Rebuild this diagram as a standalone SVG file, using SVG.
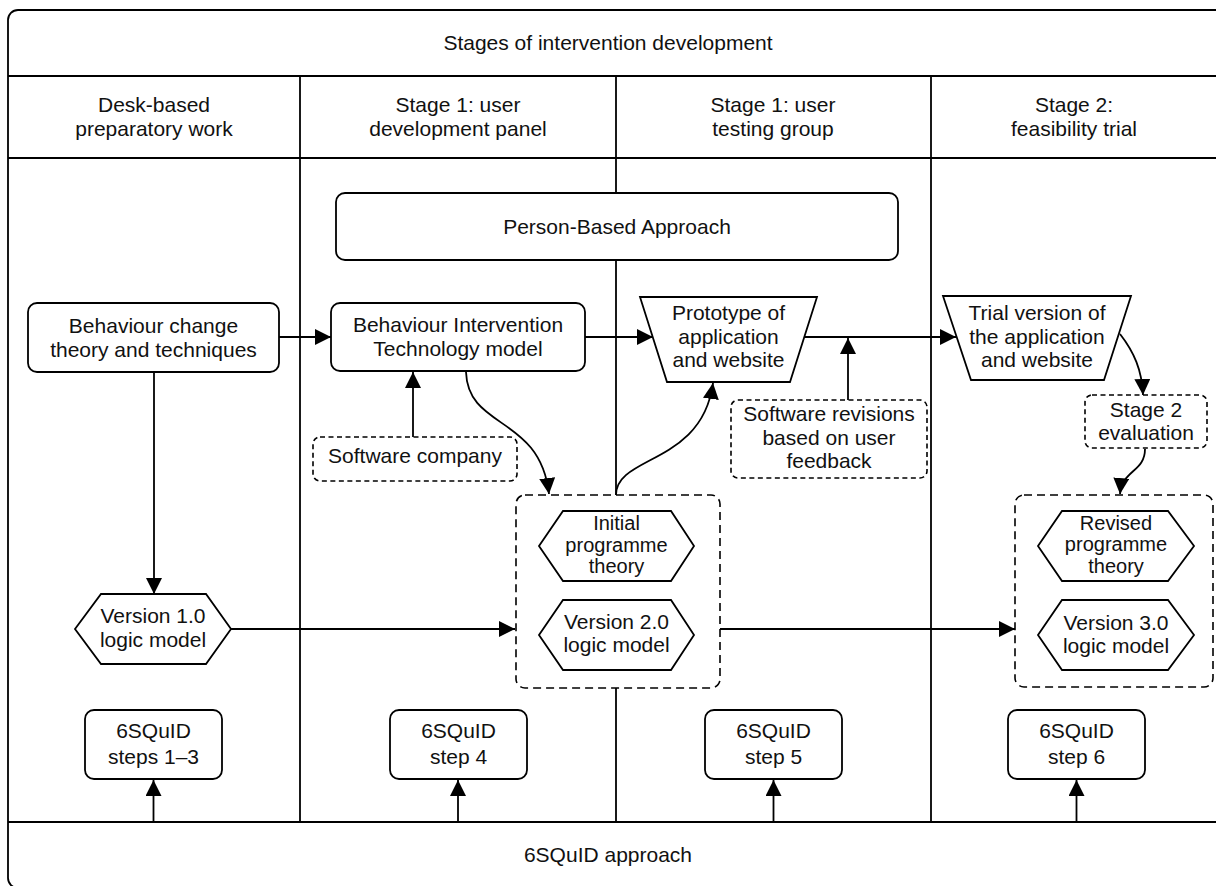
<svg xmlns="http://www.w3.org/2000/svg" width="1216" height="886" viewBox="0 0 1216 886">
<defs>
<marker id="ah" markerUnits="userSpaceOnUse" markerWidth="16" markerHeight="16" refX="14" refY="7" orient="auto" viewBox="0 0 14 14">
<path d="M0,0 L14,7 L0,14 z" fill="#000"/>
</marker>
<style>
text{font-family:"Liberation Sans",Arial,sans-serif;font-size:21px;fill:#111;text-anchor:middle}
text.sm{font-size:20px}
.frame{fill:none;stroke:#000;stroke-width:1.8}
.grid{fill:none;stroke:#000;stroke-width:1.8}
.box{fill:#fff;stroke:#000;stroke-width:1.8}
.dash{fill:#fff;stroke:#000;stroke-width:1.6;stroke-dasharray:5 3.5}
.bigdash{fill:#fff;stroke:#000;stroke-width:1.6;stroke-dasharray:8 5}
.conn{fill:none;stroke:#000;stroke-width:1.8;marker-end:url(#ah)}
</style>
</defs>
<rect width="1216" height="886" fill="#fff"/>
<g id="frame">
<path class="frame" d="M1220,10 H18 A10,10 0 0 0 8,20 V878 A10,10 0 0 0 18,888 H1220"/>
<line class="grid" x1="8" y1="76" x2="1216" y2="76"/>
<line class="grid" x1="8" y1="158" x2="1216" y2="158"/>
<line class="grid" x1="8" y1="822" x2="1216" y2="822"/>
<line class="grid" x1="300" y1="76" x2="300" y2="822"/>
<line class="grid" x1="616" y1="76" x2="616" y2="822"/>
<line class="grid" x1="931" y1="76" x2="931" y2="822"/>
<text x="608" y="50">Stages of intervention development</text>
<text x="154" y="112">Desk-based<tspan x="154" dy="24">preparatory work</tspan></text>
<text x="458" y="112">Stage 1: user<tspan x="458" dy="24">development panel</tspan></text>
<text x="773" y="112">Stage 1: user<tspan x="773" dy="24">testing group</tspan></text>
<text x="1074" y="112">Stage 2:<tspan x="1074" dy="24">feasibility trial</tspan></text>
<text x="608" y="862">6SQuID approach</text>
</g>
<g id="connectors">
<line class="conn" x1="279" y1="337" x2="331" y2="337"/>
<line class="conn" x1="585" y1="337" x2="653" y2="337"/>
<line class="conn" x1="804" y1="337" x2="956" y2="337"/>
<line class="conn" x1="848" y1="400" x2="848" y2="338"/>
<line class="conn" x1="413" y1="437" x2="413" y2="372"/>
<line class="conn" x1="154" y1="372" x2="154" y2="594"/>
<line class="conn" x1="231" y1="629" x2="515" y2="629"/>
<line class="conn" x1="720" y1="629" x2="1015" y2="629"/>
<path class="conn" d="M466,372 C468,430 540,415 549,494"/>
<path class="conn" d="M616,495 C616,455 702,465 713,383"/>
<path class="conn" d="M694,546 C716,562 712,592 687,620"/>
<path class="conn" d="M1194,546 C1216,562 1212,590 1186,619"/>
<path class="conn" d="M1120,334 C1134,352 1142,370 1143,395"/>
<path class="conn" d="M1145,449 C1145,472 1122,470 1120,494"/>
<line class="conn" x1="153.5" y1="822" x2="153.5" y2="780"/>
<line class="conn" x1="458" y1="822" x2="458" y2="780"/>
<line class="conn" x1="773.5" y1="822" x2="773.5" y2="780"/>
<line class="conn" x1="1076.5" y1="822" x2="1076.5" y2="780"/>
</g>
<g id="person-based-approach">
<rect class="box" x="336" y="193" width="562" height="67" rx="9"/>
<text x="617" y="234">Person-Based Approach</text>
</g>
<g id="behaviour-change">
<rect class="box" x="28" y="303" width="251" height="69" rx="9"/>
<text x="153.5" y="333">Behaviour change<tspan x="153.5" dy="23.5">theory and techniques</tspan></text>
</g>
<g id="bit-model">
<rect class="box" x="331" y="303" width="254" height="68" rx="9"/>
<text x="458" y="332">Behaviour Intervention<tspan x="458" dy="23.5">Technology model</tspan></text>
</g>
<g id="prototype">
<polygon class="box" points="640,297 817,297 790,382 667,382"/>
<text x="728.5" y="320">Prototype of<tspan x="728.5" dy="23.5">application</tspan><tspan x="728.5" dy="23.5">and website</tspan></text>
</g>
<g id="trial-version">
<polygon class="box" points="943,296 1131,296 1104,380 971,380"/>
<text x="1037" y="320">Trial version of<tspan x="1037" dy="23.5">the application</tspan><tspan x="1037" dy="23.5">and website</tspan></text>
</g>
<g id="software-company">
<rect class="dash" x="313" y="437" width="204" height="44" rx="7"/>
<text x="415" y="463">Software company</text>
</g>
<g id="software-revisions">
<rect class="dash" x="731" y="400" width="196" height="78" rx="7"/>
<text x="829" y="421">Software revisions<tspan x="829" dy="23.5">based on user</tspan><tspan x="829" dy="23">feedback</tspan></text>
</g>
<g id="stage2-evaluation">
<rect class="dash" x="1085" y="395" width="122" height="53" rx="7"/>
<text x="1146" y="416.5">Stage 2<tspan x="1146" dy="23">evaluation</tspan></text>
</g>
<g id="version1">
<polygon class="box" points="75,629 101,594 206,594 231,629 206,664 101,664"/>
<text x="153" y="623">Version 1.0<tspan x="153" dy="24">logic model</tspan></text>
</g>
<g id="group-v2">
<rect class="bigdash" x="516" y="495" width="204" height="193" rx="9"/>
</g>
<g id="initial-theory">
<polygon class="box" points="539,546 563,511 671,511 694,546 671,581 563,581"/>
<text class="sm" x="616.5" y="530">Initial<tspan x="616.5" dy="21.5">programme</tspan><tspan x="616.5" dy="21.5">theory</tspan></text>
</g>
<g id="version2">
<polygon class="box" points="539,635 563,600 671,600 694,635 671,670 563,670"/>
<text x="616.5" y="629">Version 2.0<tspan x="616.5" dy="23">logic model</tspan></text>
</g>
<g id="group-v3">
<rect class="bigdash" x="1015" y="495" width="198" height="192" rx="9"/>
</g>
<g id="revised-theory">
<polygon class="box" points="1038,546 1062,511 1168,511 1194,546 1168,581 1062,581"/>
<text class="sm" x="1116" y="529.5">Revised<tspan x="1116" dy="21.5">programme</tspan><tspan x="1116" dy="21.5">theory</tspan></text>
</g>
<g id="version3">
<polygon class="box" points="1038,635 1062,600 1168,600 1194,635 1168,670 1062,670"/>
<text x="1116" y="630">Version 3.0<tspan x="1116" dy="23">logic model</tspan></text>
</g>
<g id="squid1">
<rect class="box" x="85" y="710" width="137" height="69" rx="9"/>
<text x="153.5" y="738">6SQuID<tspan x="153.5" dy="26">steps 1–3</tspan></text>
</g>
<g id="squid4">
<rect class="box" x="390" y="710" width="137" height="69" rx="9"/>
<text x="458.5" y="738">6SQuID<tspan x="458.5" dy="26">step 4</tspan></text>
</g>
<g id="squid5">
<rect class="box" x="705" y="710" width="137" height="69" rx="9"/>
<text x="773.5" y="738">6SQuID<tspan x="773.5" dy="26">step 5</tspan></text>
</g>
<g id="squid6">
<rect class="box" x="1008" y="710" width="137" height="69" rx="9"/>
<text x="1076.5" y="738">6SQuID<tspan x="1076.5" dy="26">step 6</tspan></text>
</g>
</svg>
